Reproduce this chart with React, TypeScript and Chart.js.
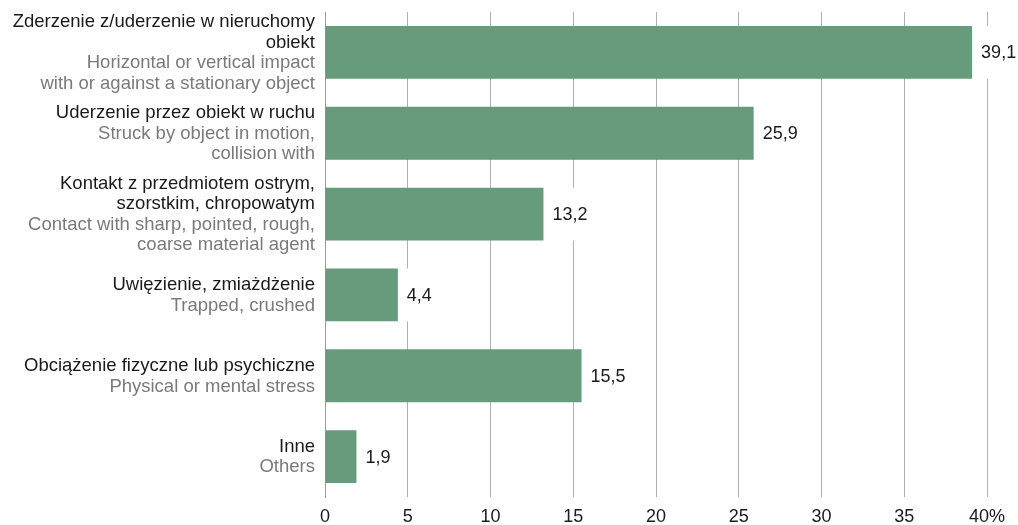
import React, { useEffect, useRef } from "react";
import { Chart, registerables } from "chart.js";

Chart.register(...registerables);

const categoriesPL: string[][] = [
  ["Zderzenie z/uderzenie w nieruchomy", "obiekt"],
  ["Uderzenie przez obiekt w ruchu"],
  ["Kontakt z przedmiotem ostrym,", "szorstkim, chropowatym"],
  ["Uwięzienie, zmiażdżenie"],
  ["Obciążenie fizyczne lub psychiczne"],
  ["Inne"],
];
const categoriesEN: string[][] = [
  ["Horizontal or vertical impact", "with or against a stationary object"],
  ["Struck by object in motion,", "collision with"],
  ["Contact with sharp, pointed, rough,", "coarse material agent"],
  ["Trapped, crushed"],
  ["Physical or mental stress"],
  ["Others"],
];
const values: number[] = [39.1, 25.9, 13.2, 4.4, 15.5, 1.9];
const xMax = 40;
const xStep = 5;

const FONT = "'Liberation Sans', Arial, sans-serif";
const BAR_COLOR = "#669b7b";
const DARK = "#1a1a1a";
const GREY = "#7a7a7a";

const labelPlugin = {
  id: "customLabels",
  afterDatasetsDraw(chart: any) {
    const ctx = chart.ctx;
    const meta = chart.getDatasetMeta(0);
    const yScale = chart.scales.y;
    ctx.save();
    // value labels with white background
    ctx.font = `18px ${FONT}`;
    ctx.textBaseline = "middle";
    ctx.textAlign = "left";
    meta.data.forEach((bar: any, i: number) => {
      const txt = values[i].toFixed(1).replace(".", ",");
      const w = ctx.measureText(txt).width;
      const h = bar.height;
      ctx.fillStyle = "#ffffff";
      ctx.fillRect(bar.x + 1, bar.y - h / 2, w + 14, h);
      ctx.fillStyle = DARK;
      ctx.fillText(txt, bar.x + 9, bar.y + 1);
    });
    // category labels
    const lh = 20.5;
    ctx.textAlign = "right";
    ctx.font = `18.5px ${FONT}`;
    categoriesPL.forEach((pl, i) => {
      const en = categoriesEN[i];
      const n = pl.length + en.length;
      const yc = yScale.getPixelForValue(i) + 0.5;
      let y = yc - (n * lh) / 2 + lh / 2;
      pl.forEach((line) => {
        ctx.fillStyle = DARK;
        ctx.fillText(line, 315, y);
        y += lh;
      });
      en.forEach((line) => {
        ctx.fillStyle = GREY;
        ctx.fillText(line, 315, y);
        y += lh;
      });
    });
    ctx.restore();
  },
};

export default function App() {
  const ref = useRef<HTMLCanvasElement | null>(null);
  useEffect(() => {
    if (!ref.current) return;
    const chart = new Chart(ref.current, {
      type: "bar",
      data: {
        labels: categoriesPL.map((l) => l.join(" ")),
        datasets: [
          {
            data: values,
            backgroundColor: BAR_COLOR,
            barPercentage: 0.654,
            categoryPercentage: 1,
          },
        ],
      },
      options: {
        indexAxis: "y",
        responsive: false,
        animation: false,
        devicePixelRatio: 1,
        layout: { padding: { top: 12, right: 31, left: 0, bottom: 0 } },
        plugins: {
          legend: { display: false },
          tooltip: { enabled: false },
        },
        scales: {
          x: {
            min: 0,
            max: xMax,
            ticks: {
              stepSize: xStep,
              font: { family: FONT, size: 18 },
              color: DARK,
              padding: 9,
              maxRotation: 0,
              callback: (v: any) => (v === xMax ? `${v}%` : String(v)),
            },
            grid: { color: "#b0b0b0", drawTicks: false, lineWidth: 1 },
            border: { display: false },
            afterFit: (scale: any) => {
              scale.height = 28;
            },
          },
          y: {
            grid: { display: false },
            border: { display: true, color: "#999999", width: 1 },
            ticks: { display: false },
            afterFit: (scale: any) => {
              scale.width = 325;
            },
          },
        },
      } as any,
      plugins: [labelPlugin],
    });
    return () => chart.destroy();
  }, []);
  return (
    <div style={{ position: "absolute", left: 0, top: 0, width: 1018, height: 525, background: "#fff" }}>
      <canvas ref={ref} width={1018} height={525} />
    </div>
  );
}
